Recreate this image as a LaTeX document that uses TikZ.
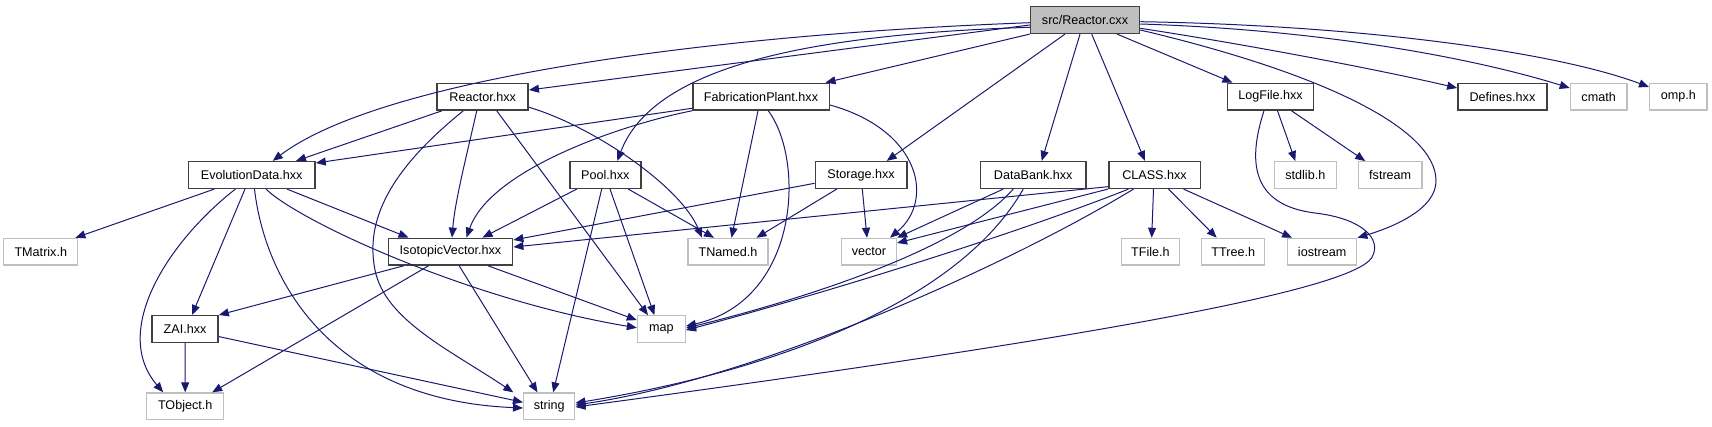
\documentclass[tikz,border=0pt]{standalone}
\usepackage{fontspec}
\setmainfont{Liberation Sans}
\usetikzlibrary{arrows.meta}
\definecolor{mblue}{RGB}{25,25,112}
\definecolor{boxgrey}{RGB}{191,191,191}
\definecolor{boxdark}{RGB}{64,64,64}
\tikzset{
  nb/.style={draw=boxdark, line width=1.5pt, fill=white, minimum height=26.7pt, inner sep=0pt,
             font=\fontsize{12.6}{14}\selectfont},
  ng/.style={nb, draw=boxgrey, line width=1.2pt},
  nsrc/.style={nb, fill=boxgrey},
  conn/.style={draw=mblue, line width=1pt, -{Triangle[length=10pt,width=8pt]}},
}
\begin{document}
\begin{tikzpicture}[x=1pt,y=-1pt]
\useasboundingbox (0,0) rectangle (1712,427);
% row 0
\node[nsrc, minimum width=109pt] (src) at (1085,20) {src/Reactor.cxx};
% row 1
\node[nb, minimum width=91pt]   (rh)  at (482.7,96.7) {Reactor.hxx};
\node[nb, minimum width=136.5pt] (fp) at (761,96.7) {FabricationPlant.hxx};
\node[nb, minimum width=86pt]   (lf)  at (1270.5,96.7) {LogFile.hxx};
\node[nb, minimum width=89pt]   (def) at (1502.4,96.7) {Defines.hxx};
\node[ng, minimum width=56.6pt] (cmath) at (1598.6,96.7) {cmath};
\node[ng, minimum width=57.4pt] (omp) at (1678.3,96.7) {omp.h};
% row 2
\node[nb, minimum width=126.7pt] (ed) at (251.7,175) {EvolutionData.hxx};
\node[nb, minimum width=71pt]   (pool) at (605.3,175) {Pool.hxx};
\node[nb, minimum width=91.5pt] (st)  at (861,175) {Storage.hxx};
\node[nb, minimum width=105.5pt] (db) at (1033.2,175) {DataBank.hxx};
\node[nb, minimum width=91.5pt] (cl)  at (1154.5,175) {CLASS.hxx};
\node[ng, minimum width=61.6pt] (stdlib) at (1305.3,175) {stdlib.h};
\node[ng, minimum width=63.6pt] (fstream) at (1390.2,175) {fstream};
% row 3
\node[ng, minimum width=74pt]   (tm)  at (40.8,251.7) {TMatrix.h};
\node[nb, minimum width=124.3pt] (iv) at (450.5,251.7) {IsotopicVector.hxx};
\node[ng, minimum width=80pt]   (tn)  at (728,251.7) {TNamed.h};
\node[ng, minimum width=55pt]   (vec) at (869,251.7) {vector};
\node[ng, minimum width=57.6pt] (tf)  at (1150.4,251.7) {TFile.h};
\node[ng, minimum width=63.3pt] (tt)  at (1233.2,251.7) {TTree.h};
\node[ng, minimum width=69.4pt] (ios) at (1322.1,251.7) {iostream};
% row 4
\node[nb, minimum width=66.2pt] (zai) at (185,329.1) {ZAI.hxx};
\node[ng, minimum width=48pt]   (map) at (661.4,329.1) {map};
% row 5
\node[ng, minimum width=77.3pt] (to)  at (185.2,406.3) {TObject.h};
\node[ng, minimum width=51.3pt] (str) at (549.2,406.3) {string};

% src edges
\draw[conn] ([yshift=-2.7pt]src.west) .. controls (700,35) and (380,80) .. ([xshift=21pt]ed.north);
\draw[conn] ([yshift=-5pt]src.west) -- ([yshift=6.7pt]rh.east);
\draw[conn] ([yshift=-7.3pt]src.west) .. controls (780,35) and (650,75) .. ([xshift=12pt]pool.north);
\draw[conn] (src.south west) -- ([xshift=64.5pt]fp.north);
\draw[conn] ([xshift=-20pt]src.south) -- ([xshift=25.7pt]st.north);
\draw[conn] ([xshift=-5pt]src.south) -- ([xshift=8.5pt]db.north);
\draw[conn] ([xshift=6.7pt]src.south) -- ([xshift=-9.5pt]cl.north);
\draw[conn] ([xshift=32pt]src.south) -- ([xshift=-38pt]lf.north);
\draw[conn] ([yshift=-10pt]src.east) .. controls (1330,75) and (1435,130) .. (1436,180)
            .. controls (1437,210) and (1390,228) .. (ios.north east);
\draw[conn] ([yshift=-8.3pt]src.east) .. controls (1250,45) and (1380,70) .. ([yshift=8.7pt]def.west);
\draw[conn] ([yshift=-4pt]src.east) .. controls (1330,30) and (1480,60) .. ([yshift=8.7pt]cmath.west);
\draw[conn] ([yshift=-1.7pt]src.east) .. controls (1350,25) and (1550,50) .. ([yshift=9.7pt]omp.west);
% Reactor.hxx
\draw[conn] ([xshift=-40.7pt]rh.south) -- ([xshift=44.3pt]ed.north);
\draw[conn] ([xshift=-19.4pt]rh.south) .. controls (390,170) and (365,220) .. (375,270)
            .. controls (385,320) and (450,350) .. ([xshift=-35.9pt]str.north);
\draw[conn] ([xshift=-6pt]rh.south) .. controls (468,150) and (455,200) .. ([xshift=1.5pt]iv.north);
\draw[conn] ([xshift=14pt]rh.south) -- ([xshift=-13.4pt]map.north);
\draw[conn] ([yshift=-10.6pt]rh.east) .. controls (590,125) and (680,185) .. ([xshift=-26pt]tn.north);
% FabricationPlant
\draw[conn] ([yshift=-11.6pt]fp.west) -- ([yshift=12pt]ed.east);
\draw[conn] (fp.south west) .. controls (620,125) and (490,170) .. ([xshift=16pt]iv.north);
\draw[conn] ([xshift=-3pt]fp.south) -- ([xshift=3.5pt]tn.north);
\draw[conn] ([xshift=7.3pt]fp.south) .. controls (805,160) and (800,300) .. ([yshift=3pt]map.east);
\draw[conn] ([yshift=-8.3pt]fp.east) .. controls (920,130) and (935,200) .. ([xshift=21pt]vec.north);
% Pool
\draw[conn] ([xshift=-28.6pt]pool.south) -- ([xshift=32pt]iv.north);
\draw[conn] ([xshift=-3.6pt]pool.south) -- ([xshift=4pt]str.north);
\draw[conn] ([xshift=4.7pt]pool.south) -- ([xshift=-7pt]map.north);
\draw[conn] ([xshift=23pt]pool.south) -- ([xshift=-14pt]tn.north);
% Storage
\draw[conn] ([yshift=-8.3pt]st.west) -- ([yshift=11.7pt]iv.east);
\draw[conn] ([xshift=-24.3pt]st.south) -- ([xshift=28.5pt]tn.north);
\draw[conn] ([xshift=1.3pt]st.south) -- ([xshift=-2pt]vec.north);
% DataBank
\draw[conn] ([xshift=-30pt]db.south) -- (vec.north east);
\draw[conn] ([xshift=-20pt]db.south) .. controls (960,250) and (800,300) .. ([yshift=1pt]map.east);
\draw[conn] ([xshift=-10pt]db.south) .. controls (960,300) and (780,370) .. ([yshift=3.3pt]str.east);
% CLASS
\draw[conn] ([yshift=-11.7pt]cl.west) -- ([yshift=4.7pt]iv.east);
\draw[conn] (cl.south west) -- ([yshift=8.7pt]vec.east);
\draw[conn] ([xshift=-26pt]cl.south) .. controls (1000,240) and (800,300) .. ([yshift=-1pt]map.east);
\draw[conn] ([xshift=-21pt]cl.south) .. controls (1000,270) and (750,380) .. ([yshift=1.3pt]str.east);
\draw[conn] ([xshift=-1pt]cl.south) -- ([xshift=1.3pt]tf.north);
\draw[conn] ([xshift=14pt]cl.south) -- ([xshift=-16.5pt]tt.north);
\draw[conn] ([xshift=29pt]cl.south) -- ([xshift=-30pt]ios.north);
% LogFile
\draw[conn] ([xshift=7pt]lf.south) -- ([xshift=-10pt]stdlib.north);
\draw[conn] ([xshift=21pt]lf.south) -- ([xshift=-25pt]fstream.north);
\draw[conn] ([xshift=-6.5pt]lf.south) .. controls (1248,160) and (1250,205) .. (1315,213)
            .. controls (1365,219) and (1380,240) .. (1373,255)
            .. controls (1365,285) and (1150,330) .. ([yshift=-0.7pt]str.east);
% EvolutionData
\draw[conn] ([xshift=-37.4pt]ed.south) -- ([xshift=-3pt]tm.north east);
\draw[conn] ([xshift=-16.3pt]ed.south) .. controls (170,240) and (110,330) .. ([xshift=-22pt]to.north);
\draw[conn] ([xshift=-6.7pt]ed.south) -- ([xshift=7pt]zai.north);
\draw[conn] ([xshift=2.8pt]ed.south) .. controls (265,280) and (330,400) .. ([yshift=-1.7pt]str.west);
\draw[conn] ([xshift=14.3pt]ed.south) .. controls (300,222) and (470,300) .. ([yshift=1.3pt]map.west);
\draw[conn] ([xshift=35.3pt]ed.south) -- ([xshift=-42pt]iv.north);
% IsotopicVector
\draw[conn] ([xshift=-46.8pt]iv.south) -- (zai.north east);
\draw[conn] ([xshift=-22pt]iv.south) -- ([xshift=27pt]to.north);
\draw[conn] ([xshift=8.7pt]iv.south) -- ([xshift=-11.7pt]str.north);
\draw[conn] ([xshift=37.5pt]iv.south) -- ([yshift=9pt]map.west);
% ZAI
\draw[conn] (zai.south) -- (to.north);
\draw[conn] ([yshift=-7.5pt]zai.east) -- ([yshift=4pt]str.west);
\end{tikzpicture}
\end{document}
